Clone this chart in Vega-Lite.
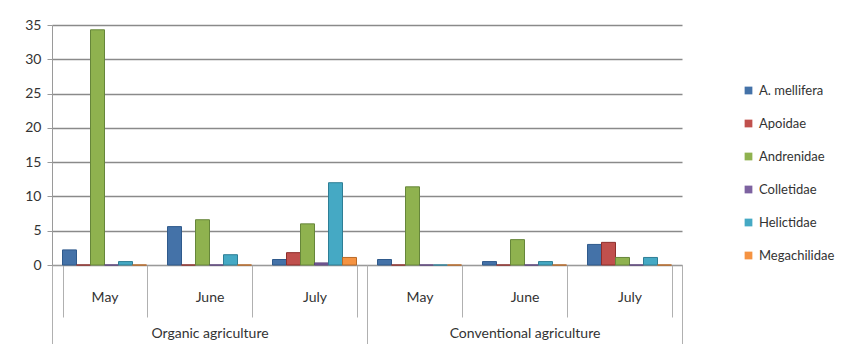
{
  "$schema": "https://vega.github.io/schema/vega-lite/v6.json",
  "width": 630,
  "height": 240,
  "autosize": {"type": "none"},
  "padding": {"left": 52, "top": 25, "right": 177, "bottom": 79},
  "config": {
    "font": "Lato",
    "view": {"stroke": null},
    "axis": {"labelFont": "Lato", "labelColor": "#333333", "domainColor": "#9a9a9a", "tickColor": "#9a9a9a"}
  },
  "data": {
    "values": [
      {"group": "Organic agriculture", "slot": "Organic agriculture|May", "species": "A. mellifera", "count": 2.2},
      {"group": "Organic agriculture", "slot": "Organic agriculture|May", "species": "Apoidae", "count": 0},
      {"group": "Organic agriculture", "slot": "Organic agriculture|May", "species": "Andrenidae", "count": 34.3},
      {"group": "Organic agriculture", "slot": "Organic agriculture|May", "species": "Colletidae", "count": 0},
      {"group": "Organic agriculture", "slot": "Organic agriculture|May", "species": "Helictidae", "count": 0.5},
      {"group": "Organic agriculture", "slot": "Organic agriculture|May", "species": "Megachilidae", "count": 0},
      {"group": "Organic agriculture", "slot": "Organic agriculture|June", "species": "A. mellifera", "count": 5.6},
      {"group": "Organic agriculture", "slot": "Organic agriculture|June", "species": "Apoidae", "count": 0},
      {"group": "Organic agriculture", "slot": "Organic agriculture|June", "species": "Andrenidae", "count": 6.6},
      {"group": "Organic agriculture", "slot": "Organic agriculture|June", "species": "Colletidae", "count": 0},
      {"group": "Organic agriculture", "slot": "Organic agriculture|June", "species": "Helictidae", "count": 1.5},
      {"group": "Organic agriculture", "slot": "Organic agriculture|June", "species": "Megachilidae", "count": 0},
      {"group": "Organic agriculture", "slot": "Organic agriculture|July", "species": "A. mellifera", "count": 0.8},
      {"group": "Organic agriculture", "slot": "Organic agriculture|July", "species": "Apoidae", "count": 1.8},
      {"group": "Organic agriculture", "slot": "Organic agriculture|July", "species": "Andrenidae", "count": 6},
      {"group": "Organic agriculture", "slot": "Organic agriculture|July", "species": "Colletidae", "count": 0.3},
      {"group": "Organic agriculture", "slot": "Organic agriculture|July", "species": "Helictidae", "count": 12},
      {"group": "Organic agriculture", "slot": "Organic agriculture|July", "species": "Megachilidae", "count": 1.1},
      {"group": "Conventional agriculture", "slot": "Conventional agriculture|May", "species": "A. mellifera", "count": 0.8},
      {"group": "Conventional agriculture", "slot": "Conventional agriculture|May", "species": "Apoidae", "count": 0},
      {"group": "Conventional agriculture", "slot": "Conventional agriculture|May", "species": "Andrenidae", "count": 11.4},
      {"group": "Conventional agriculture", "slot": "Conventional agriculture|May", "species": "Colletidae", "count": 0},
      {"group": "Conventional agriculture", "slot": "Conventional agriculture|May", "species": "Helictidae", "count": 0},
      {"group": "Conventional agriculture", "slot": "Conventional agriculture|May", "species": "Megachilidae", "count": 0},
      {"group": "Conventional agriculture", "slot": "Conventional agriculture|June", "species": "A. mellifera", "count": 0.5},
      {"group": "Conventional agriculture", "slot": "Conventional agriculture|June", "species": "Apoidae", "count": 0},
      {"group": "Conventional agriculture", "slot": "Conventional agriculture|June", "species": "Andrenidae", "count": 3.7},
      {"group": "Conventional agriculture", "slot": "Conventional agriculture|June", "species": "Colletidae", "count": 0},
      {"group": "Conventional agriculture", "slot": "Conventional agriculture|June", "species": "Helictidae", "count": 0.5},
      {"group": "Conventional agriculture", "slot": "Conventional agriculture|June", "species": "Megachilidae", "count": 0},
      {"group": "Conventional agriculture", "slot": "Conventional agriculture|July", "species": "A. mellifera", "count": 3},
      {"group": "Conventional agriculture", "slot": "Conventional agriculture|July", "species": "Apoidae", "count": 3.3},
      {"group": "Conventional agriculture", "slot": "Conventional agriculture|July", "species": "Andrenidae", "count": 1.1},
      {"group": "Conventional agriculture", "slot": "Conventional agriculture|July", "species": "Colletidae", "count": 0},
      {"group": "Conventional agriculture", "slot": "Conventional agriculture|July", "species": "Helictidae", "count": 1.1},
      {"group": "Conventional agriculture", "slot": "Conventional agriculture|July", "species": "Megachilidae", "count": 0}
    ]
  },
  "layer": [
    {
      "mark": {"type": "bar", "strokeWidth": 1},
      "encoding": {
        "x": {
          "field": "slot",
          "type": "nominal",
          "sort": [
            "Organic agriculture|May", "Organic agriculture|June", "Organic agriculture|July",
            "Conventional agriculture|May", "Conventional agriculture|June", "Conventional agriculture|July"
          ],
          "scale": {"paddingInner": 0.2, "paddingOuter": 0.1},
          "axis": {
            "orient": "bottom",
            "title": null,
            "labelAngle": 0,
            "labelExpr": "split(datum.label, '|')[1]",
            "labelFontSize": 14,
            "labelPadding": -27,
            "tickBand": "extent",
            "tickSize": 52,
            "tickColor": "#b0b0b0",
            "domainColor": "#9a9a9a",
            "grid": false
          }
        },
        "xOffset": {
          "field": "species",
          "type": "nominal",
          "sort": ["A. mellifera", "Apoidae", "Andrenidae", "Colletidae", "Helictidae", "Megachilidae"],
          "scale": {"paddingInner": 0, "paddingOuter": 0}
        },
        "y": {
          "field": "count",
          "type": "quantitative",
          "scale": {"domain": [0, 35]},
          "axis": {
            "title": null,
            "values": [0, 5, 10, 15, 20, 25, 30, 35],
            "labelFontSize": 14,
            "labelPadding": 6,
            "tickSize": 5,
            "gridColor": "#8a8a8a",
            "gridWidth": 1.5,
            "domainColor": "#9a9a9a"
          }
        },
        "color": {
          "field": "species",
          "type": "nominal",
          "sort": ["A. mellifera", "Apoidae", "Andrenidae", "Colletidae", "Helictidae", "Megachilidae"],
          "scale": {
            "domain": ["A. mellifera", "Apoidae", "Andrenidae", "Colletidae", "Helictidae", "Megachilidae"],
            "range": ["#4472a8", "#c0504d", "#8fb24f", "#7d62a0", "#45a9c4", "#f59342"]
          },
          "legend": {
            "title": null,
            "orient": "none",
            "legendX": 690,
            "legendY": 59,
            "symbolType": "square",
            "symbolSize": 60,
            "symbolStrokeWidth": 0,
            "labelFont": "Lato",
            "labelFontSize": 13,
            "labelColor": "#333333",
            "rowPadding": 19
          }
        },
        "stroke": {
          "field": "species",
          "type": "nominal",
          "scale": {
            "domain": ["A. mellifera", "Apoidae", "Andrenidae", "Colletidae", "Helictidae", "Megachilidae"],
            "range": ["#2f5a8c", "#8e2e2b", "#66863a", "#5a437a", "#2e7e95", "#b86a28"]
          },
          "legend": null
        }
      }
    },
    {
      "mark": {"type": "text", "text": ""},
      "encoding": {
        "x": {
          "field": "group",
          "type": "nominal",
          "sort": ["Organic agriculture", "Conventional agriculture"],
          "scale": {"paddingInner": 0, "paddingOuter": 0},
          "axis": {
            "orient": "bottom",
            "title": null,
            "labelAngle": 0,
            "labelFontSize": 14,
            "labelPadding": -18,
            "tickBand": "extent",
            "tickSize": 79,
            "tickColor": "#b0b0b0",
            "domain": false,
            "grid": false
          }
        }
      }
    }
  ],
  "resolve": {"scale": {"x": "independent"}, "axis": {"x": "independent"}}
}
